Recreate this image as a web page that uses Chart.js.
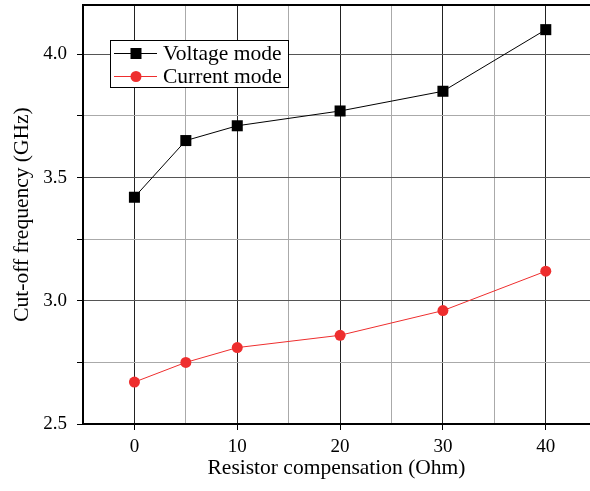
<!DOCTYPE html>
<html lang="en">
<head>
    <meta charset="UTF-8">
    <title>Cut-off frequency</title>
    <script src="https://cdn.jsdelivr.net/npm/chart.js"></script>
    <style>
        html, body { margin: 0; padding: 0; background: #fff; }
        .container { width: 590px; height: 491px; }
    </style>
</head>
<body>
    <div class="container">
        <canvas id="myChart" width="590" height="491"></canvas>
    </div>
    <script>
        const resistance = [0, 5, 10, 20, 30, 40];
        const voltageMode = [3.42, 3.65, 3.71, 3.77, 3.85, 4.10];
        const currentMode = [2.67, 2.75, 2.81, 2.86, 2.96, 3.12];
        const xTickLabels = [0, 10, 20, 30, 40];
        const yTickLabels = [2.5, 3.0, 3.5, 4.0];

        const FONT = "'Liberation Serif', 'DejaVu Serif', serif";
        const RED = '#ee2e2e';

        const isMajorX = v => xTickLabels.includes(v);
        const isMajorY = v => yTickLabels.some(t => Math.abs(t - v) < 1e-6);

        // legend box with line + marker, like the origin plot
        const boxLegend = {
            id: 'boxLegend',
            afterDraw(chart) {
                const ctx = chart.ctx;
                const a = chart.chartArea;
                const x = a.left + 27, y = a.top + 35, w = 178, h = 47;
                ctx.save();
                ctx.fillStyle = '#fff';
                ctx.fillRect(x, y, w, h);
                ctx.strokeStyle = '#000';
                ctx.lineWidth = 1;
                ctx.strokeRect(x + 0.5, y + 0.5, w, h);
                ctx.font = '21.5px ' + FONT;
                ctx.textBaseline = 'middle';
                chart.data.datasets.forEach((ds, i) => {
                    const cy = y + 13 + i * 23;
                    ctx.strokeStyle = ds.borderColor;
                    ctx.beginPath();
                    ctx.moveTo(x + 4, cy + 0.5);
                    ctx.lineTo(x + 47, cy + 0.5);
                    ctx.stroke();
                    ctx.fillStyle = ds.pointBackgroundColor;
                    ctx.beginPath();
                    if (ds.pointStyle === 'rect') {
                        ctx.rect(x + 20.5, cy - 5, 11, 11);
                    } else {
                        ctx.arc(x + 26, cy + 0.5, 5.5, 0, Math.PI * 2);
                    }
                    ctx.fill();
                    ctx.fillStyle = '#000';
                    ctx.fillText(ds.label, x + 53, cy + 1);
                });
                ctx.restore();
            }
        };

        const ctx = document.getElementById('myChart').getContext('2d');
        const myChart = new Chart(ctx, {
            type: 'line',
            data: {
                datasets: [{
                    label: 'Voltage mode',
                    data: resistance.map((r, i) => ({ x: r, y: voltageMode[i] })),
                    borderColor: '#000',
                    borderWidth: 1,
                    pointStyle: 'rect',
                    pointRadius: 7.8,
                    pointBackgroundColor: '#000',
                    pointBorderWidth: 0
                }, {
                    label: 'Current mode',
                    data: resistance.map((r, i) => ({ x: r, y: currentMode[i] })),
                    borderColor: RED,
                    borderWidth: 1,
                    pointStyle: 'circle',
                    pointRadius: 5.5,
                    pointBackgroundColor: RED,
                    pointBorderWidth: 0
                }]
            },
            options: {
                responsive: false,
                animation: false,
                layout: { autoPadding: false, padding: { top: 5, right: 0, left: 0, bottom: 0 } },
                plugins: {
                    legend: { display: false },
                    tooltip: { enabled: false }
                },
                scales: {
                    x: {
                        type: 'linear',
                        min: -5,
                        max: 44.3,
                        afterFit: s => {
                            s.height = 67;
                            s.paddingLeft = 0;
                            s.paddingRight = 0;
                        },
                        border: { color: '#000', width: 2 },
                        grid: {
                            color: c => isMajorX(c.tick.value) ? '#222' : '#aaa',
                            tickColor: c => isMajorX(c.tick.value) ? '#000' : 'rgba(0,0,0,0)',
                            tickLength: 6,
                            lineWidth: 1
                        },
                        ticks: {
                            stepSize: 5,
                            includeBounds: false,
                            autoSkip: false,
                            maxRotation: 0,
                            padding: 6,
                            color: '#000',
                            font: { family: FONT, size: 19 },
                            callback: v => isMajorX(v) ? String(v) : ''
                        },
                        title: {
                            display: true,
                            text: 'Resistor compensation (Ohm)',
                            color: '#000',
                            font: { family: FONT, size: 21.5 },
                            padding: { top: 0, bottom: 10 }
                        }
                    },
                    y: {
                        min: 2.5,
                        max: 4.2,
                        afterFit: s => {
                            s.width = 83;
                            s.paddingTop = 0;
                            s.paddingBottom = 0;
                        },
                        border: { color: '#000', width: 2 },
                        grid: {
                            color: c => {
                                const v = c.tick.value;
                                if (v > 4.15) return '#000';
                                return isMajorY(v) ? '#555' : '#aaa';
                            },
                            lineWidth: c => c.tick.value > 4.15 ? 2 : 1,
                            tickColor: c => c.tick.value > 4.15 ? 'rgba(0,0,0,0)' : '#000',
                            tickLength: 6
                        },
                        ticks: {
                            stepSize: 0.25,
                            autoSkip: false,
                            padding: 10,
                            color: '#000',
                            font: { family: FONT, size: 19 },
                            callback: v => isMajorY(v) ? v.toFixed(1) : ''
                        },
                        title: {
                            display: true,
                            text: 'Cut-off frequency (GHz)',
                            color: '#000',
                            font: { family: FONT, size: 21.5 },
                            padding: { top: 9, bottom: 0 }
                        }
                    }
                }
            },
            plugins: [boxLegend]
        });
    </script>
</body>
</html>
